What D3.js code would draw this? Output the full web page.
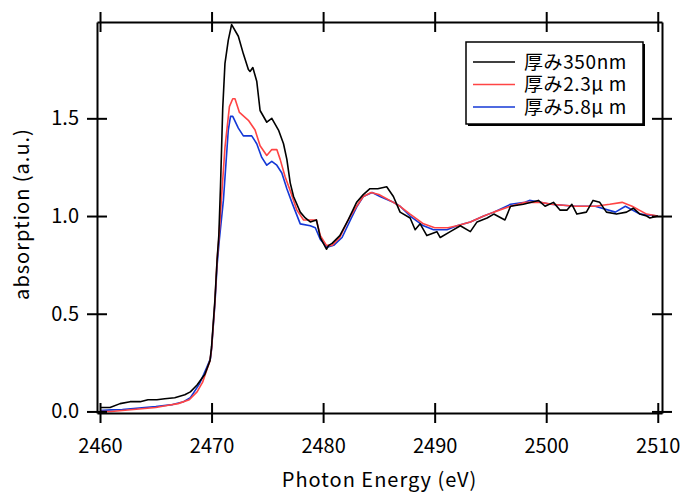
<!DOCTYPE html>
<html>
<head>
<meta charset="utf-8">
<script src="https://cdn.jsdelivr.net/npm/d3@7"></script>
<style>
  body { margin: 0; background: #fff; }
  text { font-family: "Noto Sans CJK JP", "Noto Sans", sans-serif; fill: #000; }
</style>
</head>
<body>
<svg width="687" height="493"></svg>
<script>
// series names (legend)
var names = ["厚み350nm", "厚み2.3μ m", "厚み5.8μ m"];
var colors = ["#000000", "#ff4444", "#1438d6"];

var xTicks = [2460, 2470, 2480, 2490, 2500, 2510];
var yTicks = [0.0, 0.5, 1.0, 1.5];

// 350nm
var eBlack = [2460.0, 2460.9, 2461.8, 2462.7, 2463.6, 2464.3, 2465.1, 2465.8, 2466.7, 2467.6, 2468.1, 2468.7,
  2469.4, 2469.86, 2470.0, 2470.3, 2470.5, 2470.65, 2470.8, 2471.0, 2471.2, 2471.5, 2471.8, 2472.4,
  2472.85, 2473.3, 2473.45, 2473.7, 2474.05, 2474.35, 2474.95, 2475.4, 2476.0, 2476.45, 2476.75,
  2477.05, 2477.35, 2477.95, 2478.4, 2478.85, 2479.4, 2479.75, 2480.3, 2480.5, 2480.8, 2481.5,
  2482.25, 2483.0, 2483.6, 2484.2, 2484.9, 2485.7, 2486.3, 2486.9, 2487.8, 2488.25, 2488.7, 2489.3,
  2490.2, 2490.5, 2491.4, 2492.3, 2493.2, 2493.8, 2494.7, 2495.3, 2496.3, 2496.8, 2497.95, 2499.3,
  2499.9, 2500.65, 2501.25, 2501.85, 2502.3, 2502.75, 2503.6, 2504.2, 2504.8, 2505.4, 2506.3,
  2507.2, 2507.8, 2508.4, 2509.0, 2509.3, 2510.0];
var vBlack = [0.02, 0.02, 0.04, 0.05, 0.05, 0.06, 0.06, 0.065, 0.07, 0.085, 0.10, 0.135,
  0.19, 0.26, 0.33, 0.57, 0.78, 0.90, 1.15, 1.55, 1.78, 1.90, 1.98, 1.92,
  1.83, 1.75, 1.74, 1.76, 1.69, 1.54, 1.48, 1.50, 1.44, 1.37, 1.29,
  1.17, 1.10, 1.02, 0.99, 0.97, 0.98, 0.89, 0.83, 0.85, 0.86, 0.90,
  0.98, 1.07, 1.11, 1.14, 1.14, 1.15, 1.10, 1.02, 0.99, 0.93, 0.96, 0.90,
  0.92, 0.89, 0.92, 0.95, 0.92, 0.97, 0.99, 1.01, 0.98, 1.05, 1.06, 1.08,
  1.05, 1.07, 1.03, 1.03, 1.06, 1.01, 1.02, 1.08, 1.07, 1.02, 1.01,
  1.02, 1.04, 1.01, 1.00, 0.99, 1.00];

// 2.3um
var eRed = [2460.0, 2461, 2462, 2463, 2464, 2465, 2466, 2467, 2468, 2468.7, 2469.2, 2469.5, 2469.86,
  2470.0, 2470.3, 2470.5, 2470.65, 2470.9, 2471.2, 2471.6, 2471.9, 2472.1, 2472.5, 2473.3, 2473.9,
  2474.35, 2474.95, 2475.4, 2475.85, 2476.15, 2476.6, 2477.05, 2477.65, 2478.25, 2478.85, 2479.4,
  2479.75, 2480.3, 2480.8, 2481.5, 2482.25, 2483.0, 2483.6, 2484.3, 2485.0, 2486.3, 2486.9, 2487.8,
  2489.0, 2490.0, 2491.2, 2492.0, 2493.2, 2494.4, 2495.3, 2496.8, 2498.1, 2499.5, 2500.5, 2502.6,
  2504.4, 2505.7, 2506.8, 2507.7, 2509.0, 2510.0];
var vRed = [0.0, 0.0, 0.005, 0.01, 0.015, 0.02, 0.03, 0.04, 0.06, 0.10, 0.15, 0.20, 0.26,
  0.32, 0.56, 0.78, 0.88, 1.10, 1.35, 1.56, 1.60, 1.60, 1.53, 1.49, 1.44,
  1.36, 1.31, 1.34, 1.34, 1.29, 1.20, 1.13, 1.03, 0.98, 0.98, 0.98,
  0.90, 0.85, 0.85, 0.89, 0.98, 1.05, 1.10, 1.12, 1.11, 1.07, 1.05, 1.01,
  0.96, 0.94, 0.94, 0.95, 0.97, 1.00, 1.02, 1.05, 1.07, 1.07, 1.06, 1.05,
  1.05, 1.06, 1.07, 1.05, 1.01, 1.00];

// 5.8um
var eBlue = [2460.0, 2461, 2462, 2463, 2464, 2465, 2466.5, 2467.5, 2468.1, 2468.9, 2469.3, 2469.6, 2469.9,
  2470.0, 2470.3, 2470.5, 2470.7, 2471.06, 2471.5, 2471.7, 2471.9, 2472.4, 2472.85, 2473.6, 2474.05,
  2474.5, 2474.95, 2475.4, 2475.85, 2476.3, 2476.75, 2477.2, 2477.95, 2478.85, 2479.3, 2479.75,
  2480.35, 2480.95, 2481.7, 2482.45, 2483.05, 2483.6, 2484.4, 2485.1, 2486.3, 2486.9, 2487.8,
  2489.0, 2489.9, 2491.1, 2492.0, 2493.2, 2494.4, 2495.3, 2496.8, 2498.1, 2498.5, 2500.4, 2502.6,
  2504.4, 2506.2, 2507.1, 2508.4, 2510.0];
var vBlue = [0.005, 0.008, 0.01, 0.015, 0.02, 0.025, 0.035, 0.05, 0.07, 0.14, 0.19, 0.23, 0.27,
  0.32, 0.55, 0.75, 0.88, 1.08, 1.44, 1.51, 1.51, 1.45, 1.41, 1.41, 1.37,
  1.30, 1.26, 1.28, 1.26, 1.22, 1.14, 1.07, 0.96, 0.95, 0.94, 0.88,
  0.84, 0.85, 0.89, 0.98, 1.05, 1.10, 1.12, 1.10, 1.07, 1.05, 1.00,
  0.95, 0.93, 0.93, 0.95, 0.97, 1.00, 1.02, 1.06, 1.07, 1.08, 1.06, 1.05,
  1.05, 1.02, 1.05, 1.01, 1.00];

var series = [
  { name: names[0], color: colors[0], e: eBlack, v: vBlack },
  { name: names[1], color: colors[1], e: eRed, v: vRed },
  { name: names[2], color: colors[2], e: eBlue, v: vBlue }
];

var svg = d3.select("svg");
var mLeft = 97, mRight = 662, mTop = 22, mBottom = 413;

var x = d3.scaleLinear().domain([2459.73, 2510.38]).range([mLeft, mRight]);
var y = d3.scaleLinear().domain([-0.008, 1.993]).range([mBottom, mTop]);

var line = d3.line()
    .x(function(d) { return x(d[0]); })
    .y(function(d) { return y(d[1]); });

// blue first, black on top
[2, 1, 0].forEach(function(i) {
  var s = series[i];
  svg.append("path")
      .datum(d3.zip(s.e, s.v))
      .attr("fill", "none")
      .attr("stroke", s.color)
      .attr("stroke-width", 1.6)
      .attr("stroke-linejoin", "round")
      .attr("d", line);
});

function crossTicks(g, horiz) {
  g.selectAll(".tick line")
      .attr(horiz ? "y1" : "x1", -10)
      .attr(horiz ? "y2" : "x2", 10)
      .attr("stroke-width", 2);
  g.select(".domain").attr("stroke-width", 2);
}

var gx = svg.append("g")
    .attr("transform", "translate(0," + mBottom + ")")
    .call(d3.axisBottom(x).tickValues(xTicks).tickFormat(d3.format("d")).tickSizeOuter(0));
crossTicks(gx, true);
gx.selectAll("text").attr("y", 26).attr("font-size", 20);

var gt = svg.append("g")
    .attr("transform", "translate(0," + mTop + ")")
    .call(d3.axisTop(x).tickValues(xTicks).tickFormat("").tickSizeOuter(0));
crossTicks(gt, true);

var gy = svg.append("g")
    .attr("transform", "translate(" + mLeft + ",0)")
    .call(d3.axisLeft(y).tickValues(yTicks).tickFormat(d3.format(".1f")).tickSizeOuter(0));
crossTicks(gy, false);
gy.selectAll("text").attr("x", -18).attr("font-size", 20);

var gr = svg.append("g")
    .attr("transform", "translate(" + mRight + ",0)")
    .call(d3.axisRight(y).tickValues(yTicks).tickFormat("").tickSizeOuter(0));
crossTicks(gr, false);

svg.selectAll(".domain").attr("stroke", "#000");

svg.append("text")
    .attr("x", (mLeft + mRight) / 2)
    .attr("y", 487)
    .attr("text-anchor", "middle")
    .attr("font-size", 20)
    .attr("letter-spacing", 1)
    .text("Photon Energy (eV)");

svg.append("text")
    .attr("transform", "translate(29,214) rotate(-90)")
    .attr("text-anchor", "middle")
    .attr("font-size", 20)
    .attr("letter-spacing", 1)
    .text("absorption (a.u.)");

// legend
var lg = svg.append("g").attr("transform", "translate(466,42)");
lg.append("rect").attr("x", 2).attr("y", 2).attr("width", 177).attr("height", 82).attr("fill", "#000");
lg.append("rect").attr("width", 177).attr("height", 82)
    .attr("fill", "#fff").attr("stroke", "#000").attr("stroke-width", 1.5);
series.forEach(function(s, i) {
  var row = lg.append("g").attr("transform", "translate(0," + (20 + i * 22.5) + ")");
  row.append("line").attr("x1", 7).attr("x2", 49)
      .attr("stroke", s.color).attr("stroke-width", 1.5);
  row.append("text").attr("x", 58).attr("dy", "0.36em")
      .attr("font-size", 19).attr("letter-spacing", 0.6).text(s.name);
});
</script>
</body>
</html>
